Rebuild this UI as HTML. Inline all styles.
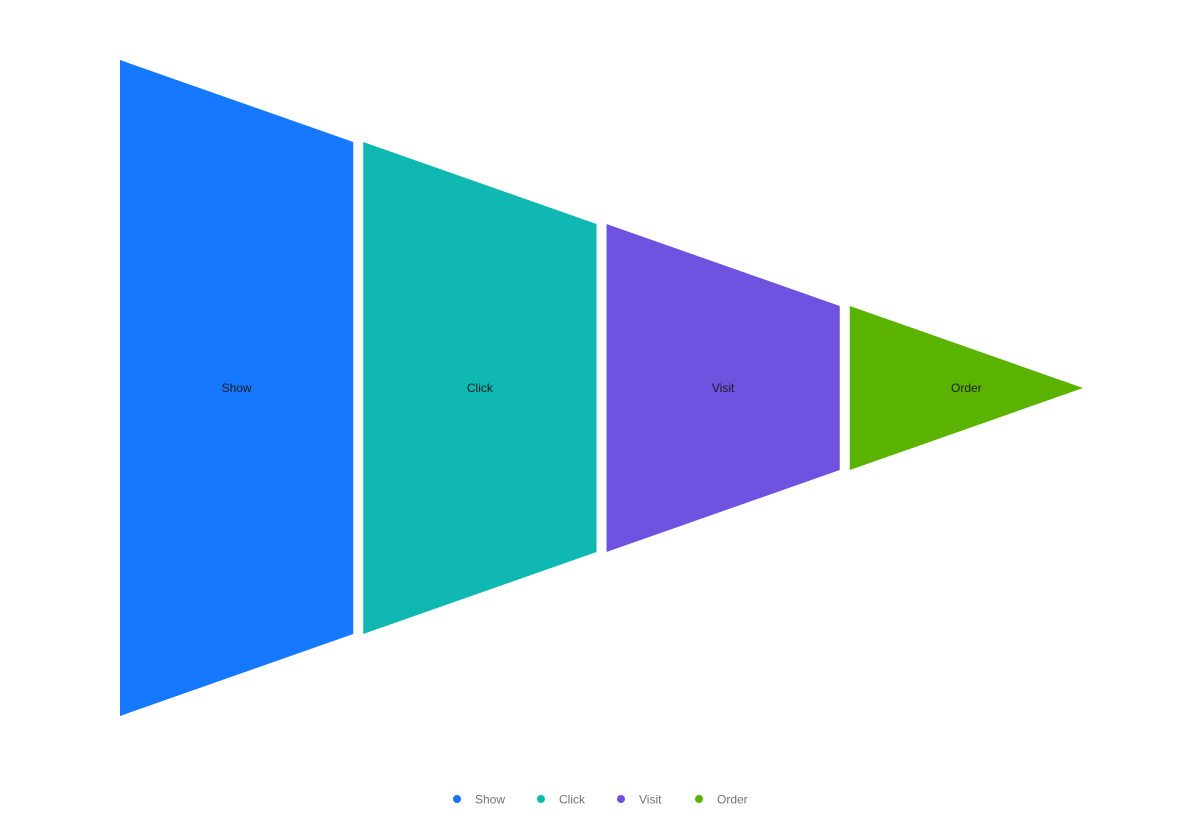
<!DOCTYPE html>
<html><head><meta charset="utf-8"><style>
html,body{margin:0;padding:0;background:#fff;}
svg{display:block;font-family:"Liberation Sans",sans-serif;}
</style></head><body>
<svg id="chart" width="1203" height="821"></svg>
<script>
const categories = ["Show","Click","Visit","Order"];
const values = [100,75,50,25];
const colors = ["#1677ff","#0fb8b3","#7052e0","#5ab300"];
const legendX = [457,541,621,699];

const svg = document.getElementById('chart');
const NS = 'http://www.w3.org/2000/svg';
const x0 = 120, x1 = 1083, cy = 388, halfMax = 328, gap = 10;
const maxV = Math.max(...values);
const segW = (x1 - x0 - gap*(categories.length-1)) / categories.length;
function hy(v){ return v / maxV * halfMax; }
function xAt(i){ return x0 + i*(segW+gap); }
categories.forEach((c,i)=>{
  const xa = xAt(i), xb = xa + segW;
  const ha = hy(values[i]);
  const next = i+1 < values.length ? values[i+1] : 0;
  const hb = hy(next);
  const p = document.createElementNS(NS,'polygon');
  p.setAttribute('points', `${xa},${cy-ha} ${xb},${cy-hb} ${xb},${cy+hb} ${xa},${cy+ha}`);
  p.setAttribute('fill', colors[i]);
  
  
  svg.appendChild(p);
  const t = document.createElementNS(NS,'text');
  t.setAttribute('x', xa + segW/2);
  t.setAttribute('y', cy + 4);
  t.setAttribute('text-anchor','middle');
  t.setAttribute('font-size','12');
  t.setAttribute('fill','#1d1d1d');
  t.textContent = c;
  
  
  svg.appendChild(t);

  const g = document.createElementNS(NS,'g');
  
  
  const dot = document.createElementNS(NS,'circle');
  dot.setAttribute('cx', legendX[i]); dot.setAttribute('cy', 799); dot.setAttribute('r', 4);
  dot.setAttribute('fill', colors[i]);
  g.appendChild(dot);
  const lt = document.createElementNS(NS,'text');
  lt.setAttribute('x', legendX[i] + 18); lt.setAttribute('y', 803.5);
  lt.setAttribute('font-size','12'); lt.setAttribute('fill','#737373');
  lt.textContent = c;
  g.appendChild(lt);
  svg.appendChild(g);
});
</script>
</body></html>
